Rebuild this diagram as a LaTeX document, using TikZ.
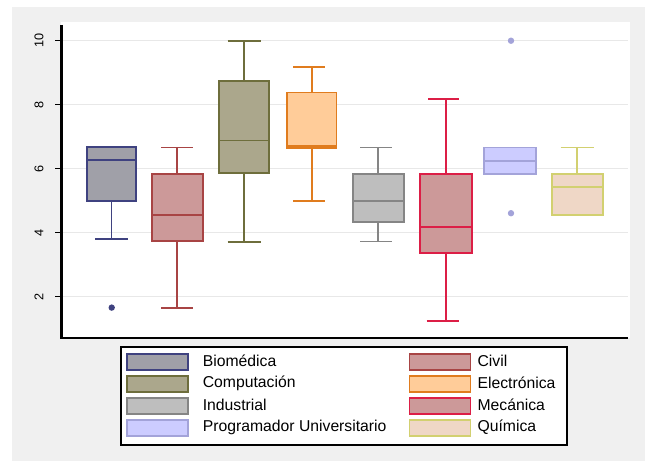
\documentclass[tikz,border=0pt]{standalone}
\usepackage{fontspec}
\setmainfont{Liberation Sans}
\usepackage{tikz}

\definecolor{bggray}{HTML}{F0F0F0}
\definecolor{gridgray}{HTML}{E8E8E8}
\definecolor{biofill}{HTML}{A0A0A8}
\definecolor{bioline}{HTML}{3F4280}
\definecolor{civfill}{HTML}{CC9999}
\definecolor{civline}{HTML}{A84444}
\definecolor{comfill}{HTML}{ABA78C}
\definecolor{comline}{HTML}{6E6E3C}
\definecolor{elefill}{HTML}{FFCC99}
\definecolor{eleline}{HTML}{E07C1E}
\definecolor{indfill}{HTML}{BEBEBE}
\definecolor{indline}{HTML}{858585}
\definecolor{mecfill}{HTML}{CC9999}
\definecolor{mecline}{HTML}{DC1E46}
\definecolor{profill}{HTML}{CCCCFF}
\definecolor{proline}{HTML}{A3A3D9}
\definecolor{quifill}{HTML}{EFD7C6}
\definecolor{quiline}{HTML}{D2D070}

\tikzset{
  bio/.style={draw=bioline, fill=biofill},
  civ/.style={draw=civline, fill=civfill},
  com/.style={draw=comline, fill=comfill},
  ele/.style={draw=eleline, fill=elefill},
  ind/.style={draw=indline, fill=indfill},
  mec/.style={draw=mecline, fill=mecfill},
  pro/.style={draw=proline, fill=profill},
  qui/.style={draw=quiline, fill=quifill},
  ticklab/.style={rotate=90, font=\fontsize{9.5}{10}\selectfont, inner sep=0pt},
  legtext/.style={anchor=west, inner sep=0pt, font=\fontsize{11.8}{13}\selectfont},
  swatch/.style={minimum width=45.75pt, minimum height=12pt, inner sep=0pt, line width=1.3pt}
}

\begin{document}
\begin{tikzpicture}[x=0.75pt, y=0.75pt, line width=1.3pt]
      \useasboundingbox (0,0) rectangle (645,461);
      \fill[bggray] (12,0) rectangle (645,454);
      \fill[white] (61,123) rectangle (630,439);

      % data part: one unit is 32px
      \begin{scope}[yshift=75.2pt, y=24pt]
      \draw[gridgray, line width=1.1pt] (62,2) -- (628,2);
      \draw[gridgray, line width=1.1pt] (62,4) -- (628,4);
      \draw[gridgray, line width=1.1pt] (62,6) -- (628,6);
      \draw[gridgray, line width=1.1pt] (62,8) -- (628,8);
      \draw[gridgray, line width=1.1pt] (62,10) -- (628,10);

      \draw[line width=1.1pt] (55,2) -- (61.5,2);
      \draw[line width=1.1pt] (55,4) -- (61.5,4);
      \draw[line width=1.1pt] (55,6) -- (61.5,6);
      \draw[line width=1.1pt] (55,8) -- (61.5,8);
      \draw[line width=1.1pt] (55,10) -- (61.5,10);
      \node[ticklab] (t2) at (39,2) {2};
      \node[ticklab] (t4) at (39,4) {4};
      \node[ticklab] (t6) at (39,6) {6};
      \node[ticklab] (t8) at (39,8) {8};
      \node[ticklab] (t10) at (39,10) {10};

      % Biomedica
      \draw[bioline] (111.5,5.0) -- (111.5,3.81);
      \draw[bioline] (95,3.81) -- (128,3.81);
      \draw[bio] (87.3,5.0) rectangle (135.7,6.67);
      \draw[bioline] (87.3,6.27) -- (135.7,6.27);
      \fill[bioline] (111.7,1.66) circle (2.4pt);

      % Civil
      \draw[civline] (177,3.74) -- (177,1.64);
      \draw[civline] (161,1.64) -- (193,1.64);
      \draw[civline] (177,5.83) -- (177,6.66);
      \draw[civline] (161,6.66) -- (193,6.66);
      \draw[civ] (151.7,3.74) rectangle (202.7,5.83);
      \draw[civline] (151.7,4.55) -- (202.7,4.55);

      % Computacion
      \draw[comline] (244,5.86) -- (244,3.72);
      \draw[comline] (227.7,3.72) -- (261,3.72);
      \draw[comline] (244,8.75) -- (244,10);
      \draw[comline] (227.7,10) -- (261,10);
      \draw[com] (219,5.86) rectangle (269.3,8.75);
      \draw[comline] (219,6.88) -- (269.3,6.88);

      % Electronica
      \draw[eleline] (311.7,6.64) -- (311.7,5.0);
      \draw[eleline] (293,5.0) -- (325,5.0);
      \draw[eleline] (311.7,8.38) -- (311.7,9.19);
      \draw[eleline] (293,9.19) -- (325,9.19);
      \draw[ele] (286.8,6.64) rectangle (336.6,8.38);
      \draw[eleline] (286.8,6.70) -- (336.6,6.70);

      % Industrial
      \draw[indline] (378.3,4.33) -- (378.3,3.73);
      \draw[indline] (360,3.73) -- (392.3,3.73);
      \draw[indline] (378.3,5.83) -- (378.3,6.66);
      \draw[indline] (360,6.66) -- (392.3,6.66);
      \draw[ind] (352.7,4.33) rectangle (404,5.83);
      \draw[indline] (352.7,5.0) -- (404,5.0);

      % Mecanica
      \draw[mecline] (446,3.36) -- (446,1.25);
      \draw[mecline] (426.7,1.25) -- (459.3,1.25);
      \draw[mecline] (446,5.83) -- (446,8.17);
      \draw[mecline] (428,8.17) -- (459.3,8.17);
      \draw[mec] (420,3.36) rectangle (471.7,5.83);
      \draw[mecline] (420,4.17) -- (471.7,4.17);

      % Programador Universitario
      \draw[pro] (484.3,5.83) rectangle (536,6.66);
      \draw[proline] (484.3,6.25) -- (536,6.25);
      \fill[proline] (511,10) circle (2.4pt);
      \fill[proline] (511,4.61) circle (2.4pt);

      % Quimica
      \draw[quiline] (577,5.83) -- (577,6.66);
      \draw[quiline] (560.7,6.66) -- (594,6.66);
      \draw[qui] (551.7,4.55) rectangle (602.7,5.83);
      \draw[quiline] (551.7,5.44) -- (602.7,5.44);
      \end{scope}

      % axes
      \draw[line width=1.6pt] (61.5,436) -- (61.5,123) -- (628,123);

      % legend
      \draw[fill=white, line width=1.5pt] (120.7,16) rectangle (566.7,114.3);
      \node[swatch, bio] (s1) at (157.8,99) {};
      \node[swatch, com] (s3) at (157.8,77) {};
      \node[swatch, ind] (s5) at (157.8,55) {};
      \node[swatch, pro] (s7) at (157.8,33) {};
      \node[swatch, civ] (s2) at (440,99) {};
      \node[swatch, ele] (s4) at (440,77) {};
      \node[swatch, mec] (s6) at (440,55) {};
      \node[swatch, qui] (s8) at (440,33) {};
      \node[legtext] (l1) at (202,100) {Biomédica};
      \node[legtext] (l3) at (202,78) {Computación};
      \node[legtext] (l5) at (202,56) {Industrial};
      \node[legtext] (l7) at (202,34) {Programador Universitario};
      \node[legtext] (l2) at (476.7,100) {Civil};
      \node[legtext] (l4) at (476.7,78) {Electrónica};
      \node[legtext] (l6) at (476.7,56) {Mecánica};
      \node[legtext] (l8) at (476.7,34) {Química};
    \end{tikzpicture}
\end{document}
